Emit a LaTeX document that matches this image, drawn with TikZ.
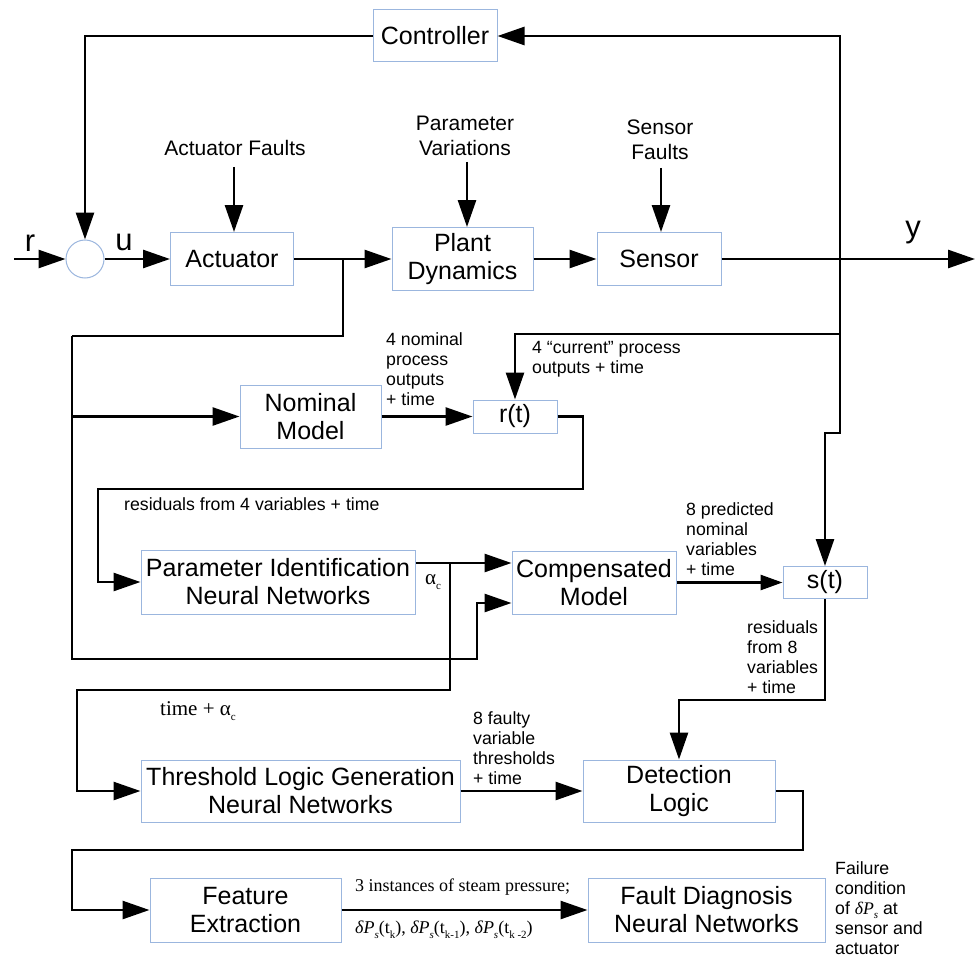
\documentclass[tikz,border=0pt]{standalone}
\usepackage{fontspec}
\setmainfont{Liberation Sans}
\newfontfamily\serifx{Liberation Serif}
\usetikzlibrary{arrows.meta}
\definecolor{boxc}{RGB}{155,182,222}
% lowered subscript, as used in the serif labels
\newcommand\lowsub[1]{\raisebox{-0.55ex}{\fontsize{11}{11}\selectfont #1}}
\tikzset{
  blk/.style={draw=boxc, line width=1pt, fill=white, inner sep=0pt, align=center,
    font=\fontsize{25}{28}\selectfont},
  wire/.style={line width=2.7pt},
  arr/.style={wire, -{Triangle[length=27pt,width=18pt]}},
  arrs/.style={wire, -{Triangle[length=22pt,width=15pt]}},
  lbl/.style={font=\fontsize{17.7}{20}\selectfont, align=left, inner sep=0pt},
  toplbl/.style={font=\fontsize{21}{24.5}\selectfont, align=center, inner sep=0pt},
  sig/.style={font=\fontsize{31}{31}\selectfont, inner sep=0pt},
  slbl/.style={font=\serifx\fontsize{18}{20}\selectfont, align=left, inner sep=0pt},
}
\begin{document}
\begin{tikzpicture}[x=1pt, y=-1pt]
\useasboundingbox (0,0) rectangle (976,960);
\fill[white] (0,0) rectangle (976,960);

% ---------- blocks ----------
\node[blk, minimum width=124pt, minimum height=52pt] (ctrl) at (435,36) {Controller};
\node[draw=boxc, line width=1pt, fill=white, circle, minimum size=38pt, inner sep=0pt] (sum) at (85,259) {};
\node[blk, minimum width=123pt, minimum height=53pt] (act) at (232,259) {Actuator};
\node[blk, minimum width=141pt, minimum height=63pt] (plant) at (462.5,259) {Plant\\Dynamics};
\node[blk, minimum width=124pt, minimum height=53pt] (sensor) at (659,259) {Sensor};
\node[blk, minimum width=141pt, minimum height=63pt] (nominal) at (310.5,416.5) {Nominal\\Model};
\node[blk, minimum width=84pt, minimum height=33pt] (rt) at (515,416.5) {r(t)};
\node[blk, minimum width=274pt, minimum height=64pt] (pinn) at (278,582) {Parameter Identification\\Neural Networks};
\node[blk, minimum width=164pt, minimum height=63pt] (comp) at (594,582.5) {Compensated\\Model};
\node[blk, minimum width=84pt, minimum height=32pt] (st) at (825,582.5) {s(t)};
\node[blk, minimum width=319pt, minimum height=62pt] (thr) at (300.5,791) {Threshold Logic Generation\\Neural Networks};
\node[blk, minimum width=192pt, minimum height=62pt] (det) at (679,791) {Detection\\Logic};
\node[blk, minimum width=191pt, minimum height=64pt] (fe) at (245.5,910) {Feature\\Extraction};
\node[blk, minimum width=237pt, minimum height=64pt] (fdnn) at (706.5,910) {Fault Diagnosis\\Neural Networks};

% ---------- disturbance inputs ----------
\node[toplbl] (af) at (235,148) {Actuator Faults};
\node[toplbl] (pv) at (465,136) {Parameter\\Variations};
\node[toplbl] (sf) at (660,140) {Sensor\\Faults};
\coordinate (afs) at (234,167);
\coordinate (pvs) at (467,162);
\coordinate (sfs) at (661,168);
\draw[arr] (afs) -- (afs |- act.north);
\draw[arr] (pvs) -- (pvs |- plant.north);
\draw[arr] (sfs) -- (sfs |- sensor.north);

% ---------- main loop ----------
\coordinate (rin) at (14,259);
\coordinate (yout) at (975,259);
\coordinate (ab) at (343,259);
\coordinate (fb) at (840,259);
\draw[arr] (rin) -- (sum.west);
\node[sig] (rl) at (30,243) {r};
\draw[arr] (sum.east) -- (act.west);
\node[sig] (ul) at (124,242) {u};
\draw[arr] (act.east) -- (plant.west);
\draw[arr] (plant.east) -- (sensor.west);
\draw[arr] (sensor.east) -- (yout);
\node[sig] (yl) at (913,233) {y};
\draw[arr] (fb) |- (ctrl.east);
\draw[arr] (ctrl.west) -| (sum.north);

% ---------- process outputs to residual generators ----------
\coordinate (fbr) at (840,334);
\coordinate (fbj) at (840,433);
\draw[arr] (fb) -- (fbr) -| (rt.north);
\draw[arr] (fbr) -- (fbj) -| (st.north);
\node[lbl, anchor=west] (curl) at (532,359) {4 “current” process\\outputs + time};

% ---------- control input bus ----------
\coordinate (ab2) at (343,336);
\coordinate (lb) at (72,336);
\coordinate (nb) at (72,416.5);
\coordinate (cb) at (477,659);
\coordinate (cin) at (477,603);
\draw[wire] (ab) -- (ab2) -- (lb);
\draw[arr] (lb) |- (cb) -- (cin) -- (comp.west |- cin);
\draw[arr] (nb) -- (nominal.west);

% ---------- nominal model and r(t) ----------
\draw[arr] (nominal.east) -- (rt.west);
\node[lbl, anchor=west] (nol) at (386,369) {4 nominal\\process\\outputs\\+ time};
\coordinate (rr) at (583,489);
\coordinate (rl2) at (98,489);
\draw[arr] (rt.east) -| (rr) -- (rl2) |- (pinn.west);
\node[lbl, anchor=west] (resl) at (124,504) {residuals from 4 variables + time};

% ---------- parameter identification ----------
\coordinate (pi1) at (450,563);
\coordinate (pi2) at (450,690);
\coordinate (pi3) at (77,690);
\draw[arr] (pinn.east |- pi1) -- (comp.west |- pi1);
\node[font=\serifx\fontsize{21}{24}\selectfont, inner sep=0pt, anchor=west] (al) at (425,582) {α\lowsub{c}};
\draw[arr] (pi1) -- (pi2) -- (pi3) |- (thr.west);
\node[font=\serifx\fontsize{21}{24}\selectfont, inner sep=0pt, anchor=west] (tal) at (160,711) {time + α\lowsub{c}};

% ---------- compensated model and s(t) ----------
\draw[arrs] (comp.east) -- (st.west);
\node[lbl, anchor=west] (prl) at (686,539) {8 predicted\\nominal\\variables\\+ time};
\coordinate (sd) at (679,700);
\draw[arr] (st.south) |- (sd) -- (det.north);
\node[lbl, anchor=west] (r8l) at (747,657) {residuals\\from 8\\variables\\+ time};

% ---------- detection and diagnosis ----------
\draw[arr] (thr.east) -- (det.west);
\node[lbl, anchor=west] (fvl) at (473,748) {8 faulty\\variable\\thresholds\\+ time};
\coordinate (dr) at (803,850);
\coordinate (dl) at (72,850);
\draw[arr] (det.east) -| (dr) -- (dl) |- (fe.west);
\draw[arr] (fe.east) -- (fdnn.west);
\node[slbl, anchor=west] (spl) at (355,887) {3 instances of steam pressure;};
\node[slbl, anchor=west] (dpl) at (355,930) {{\itshape δP}\lowsub{\itshape s}(t\lowsub{k}), {\itshape δP}\lowsub{\itshape s}(t\lowsub{k-1}), {\itshape δP}\lowsub{\itshape s}(t\lowsub{k -2})};
\node[lbl, anchor=west] (fcl) at (835,908) {Failure\\condition\\of {\serifx\itshape δP\lowsub{s}} at\\sensor and\\actuator};
\end{tikzpicture}
\end{document}
